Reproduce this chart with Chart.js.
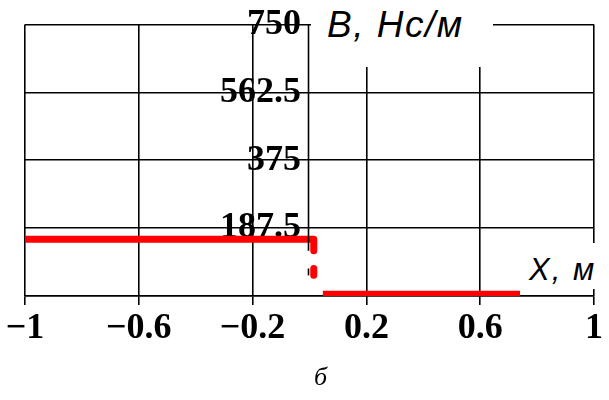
<!DOCTYPE html>
<html>
<head>
<meta charset="utf-8">
<script src="https://cdn.jsdelivr.net/npm/chart.js@4.4.1/dist/chart.umd.min.js"></script>
<style>
  html, body { margin: 0; padding: 0; background: #fff; }
  #wrap { position: relative; width: 609px; height: 400px; overflow: hidden; }
  #c { position: absolute; left: 0; top: 0; }
  .name { position: absolute; background: #fff; color: #000;
          font-family: "Liberation Sans", Arial, sans-serif; font-style: italic;
          white-space: nowrap; }
  #yname { left: 311px; top: 0; width: 182px; height: 67px; font-size: 37px; letter-spacing: 1.5px; }
  #yname span { position: absolute; left: 16px; top: 6px; line-height: 1; }
  #xname { left: 500px; top: 243px; width: 109px; height: 46px; font-size: 31px; letter-spacing: 2px; }
  #xname span { position: absolute; left: 29px; top: 11px; line-height: 1; }
  #cap { position: absolute; left: 314px; top: 364px; font-family: "Liberation Serif", serif;
         font-style: italic; font-size: 26px; line-height: 1; }
</style>
</head>
<body>
<div id="wrap">
  <canvas id="c" width="609" height="400"></canvas>
  <div class="name" id="yname"><span>B, Нс/м</span></div>
  <div class="name" id="xname"><span>X, м</span></div>
  <div id="cap">б</div>
</div>
<script>
// axis ticks
const xTicks = [-1, -0.6, -0.2, 0.2, 0.6, 1];
const yTicks = [0, 187.5, 375, 562.5, 750];

// step curve B(x): upper level, falling edge (broken), lower level
const stepX = [-1, 0.015, 0.015, 0.015, 0.015, 0.015];
const stepY = [157, 157, 125, null, 76, 57];
const lowX = [0.047, 0.74];
const lowY = [5, 5];

const toPoints = (xs, ys) => xs.map((x, i) => ({x: x, y: ys[i]}));

function fmt(v) {
  const r = Math.round(v * 10) / 10;
  return r < 0 ? '\u2212' + String(-r) : String(r);
}

const serif = {family: '"Liberation Serif", "Times New Roman", serif', weight: 'bold', size: 36};

// y axis line at x = 0, broken where the curve falls
const axisLine = {
  id: 'axisLine',
  afterDatasetsDraw(chart) {
    const {ctx, scales: {x, y}} = chart;
    const px = x.getPixelForValue(0) - 1;
    const parts = [[yTicks[yTicks.length - 1], stepY[2]], [stepY[4], stepY[5]]];
    ctx.save();
    ctx.strokeStyle = '#000';
    ctx.lineWidth = 1.6;
    parts.forEach(([a, b]) => {
      ctx.beginPath();
      ctx.moveTo(px, y.getPixelForValue(a));
      ctx.lineTo(px, y.getPixelForValue(b));
      ctx.stroke();
    });
    ctx.restore();
  }
};

new Chart(document.getElementById('c'), {
  type: 'line',
  data: {
    datasets: [{
      data: toPoints(stepX, stepY),
      borderColor: '#ff0000',
      borderWidth: 7,
      borderCapStyle: 'butt',
      borderJoinStyle: 'round',
      pointRadius: 0,
      spanGaps: false,
      tension: 0
    }, {
      data: toPoints(lowX, lowY),
      borderColor: '#ff0000',
      borderWidth: 7,
      borderCapStyle: 'butt',
      pointRadius: 0,
      tension: 0
    }]
  },
  options: {
    responsive: false,
    animation: false,
    layout: {padding: {left: 25, right: 15, top: 19, bottom: 0}},
    plugins: {legend: {display: false}, tooltip: {enabled: false}},
    scales: {
      x: {
        type: 'linear',
        min: -1,
        max: 1,
        afterBuildTicks: s => { s.ticks = xTicks.map(v => ({value: v})); },
        afterFit: s => { s.height = 104; },
        grid: {color: '#000', lineWidth: 1.6, tickLength: 9},
        border: {color: '#000', width: 1.6},
        ticks: {font: serif, color: '#000', padding: 2, maxRotation: 0, autoSkip: false,
                callback: v => fmt(v)}
      },
      y: {
        type: 'linear',
        min: 0,
        max: 750,
        position: {x: -0.03},
        afterBuildTicks: s => { s.ticks = yTicks.map(v => ({value: v})); },
        afterFit: s => { s.width = 0; },
        grid: {color: '#000', lineWidth: 1.6, tickLength: 0},
        border: {display: false},
        ticks: {font: serif, color: '#000', autoSkip: false,
                callback: v => v === 0 ? '' : String(v)}
      }
    }
  },
  plugins: [axisLine]
});
</script>
</body>
</html>
